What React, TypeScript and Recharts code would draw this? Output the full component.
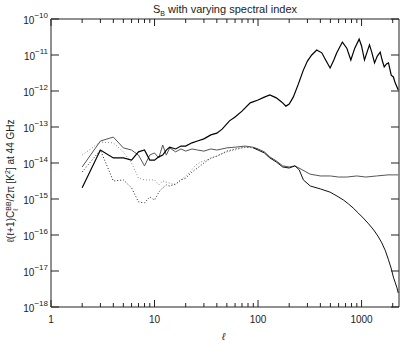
import React from "react";
import { LineChart, Line, XAxis, YAxis } from "recharts";

// multipole l for each curve, with log10 of l(l+1)C_l/2pi [K^2]
const ellA = [2, 3, 4, 5, 6, 7, 8, 9, 10, 11, 12, 13, 14, 16, 18, 20, 23, 26, 30, 35, 40, 45, 53, 60, 70, 84, 100, 115, 130, 150, 170, 186, 200, 219, 245, 274, 300, 330, 369, 413, 450, 497, 540, 576, 653, 720, 788, 860, 948, 1000, 1067, 1130, 1193, 1260, 1335, 1420, 1514, 1580, 1656, 1740, 1820, 1935, 2030, 2100, 2260];
const logA = [-14.69, -13.64, -13.86, -13.86, -13.92, -13.69, -13.64, -13.92, -13.92, -13.83, -13.78, -13.64, -13.56, -13.61, -13.53, -13.53, -13.44, -13.39, -13.33, -13.22, -13.17, -13.06, -12.83, -12.72, -12.56, -12.33, -12.25, -12.17, -12.11, -12.19, -12.31, -12.42, -12.36, -12.17, -11.81, -11.42, -11.17, -11.0, -10.86, -10.94, -11.14, -11.36, -11.14, -10.94, -10.64, -10.81, -11.14, -10.81, -10.56, -10.75, -11.14, -10.92, -10.72, -10.94, -11.22, -11.03, -10.92, -11.14, -11.33, -11.25, -11.22, -11.56, -11.61, -11.75, -11.97];

const ellB = [2, 3, 4, 5, 6, 7, 8, 9, 10, 11, 12, 13, 14, 16, 18, 20, 23, 26, 30, 35, 40, 50, 60, 75, 89, 100, 115, 130, 150, 173, 200, 227, 260, 318, 400, 500, 600, 720, 900, 1100, 1400, 1800, 2260];
const logB = [-14.11, -13.39, -13.28, -13.58, -13.64, -13.78, -14.08, -13.78, -13.72, -13.86, -13.5, -13.78, -13.58, -13.69, -13.61, -13.67, -13.61, -13.64, -13.67, -13.61, -13.64, -13.58, -13.56, -13.53, -13.56, -13.61, -13.69, -13.83, -13.94, -14.08, -14.11, -14.08, -14.17, -14.31, -14.36, -14.36, -14.39, -14.39, -14.36, -14.39, -14.36, -14.33, -14.33];

const ellC = [2, 3, 4, 5, 6, 7, 8, 9, 10, 11, 12, 14, 16, 18, 20, 22, 25, 28, 32, 36, 42, 50, 60, 70, 84, 100];
const logC = [-13.78, -13.42, -13.44, -13.69, -14.0, -14.42, -14.47, -14.47, -14.47, -14.61, -14.5, -14.56, -14.61, -14.47, -14.36, -14.25, -14.06, -13.97, -13.92, -13.86, -13.78, -13.69, -13.64, -13.58, -13.56, -13.61];

const ellD = [2, 3, 4, 5, 6, 7, 8, 9, 10, 11, 12, 13, 14, 16, 18, 20, 23, 26, 30, 35, 40, 50, 60, 75, 90, 100];
const logD = [-14.25, -13.64, -14.5, -14.47, -14.69, -15.08, -15.11, -14.94, -15.03, -14.81, -14.69, -14.61, -14.64, -14.58, -14.47, -14.42, -14.25, -14.14, -14.0, -13.86, -13.81, -13.67, -13.61, -13.56, -13.58, -13.61];

const ellE = [90, 100, 115, 130, 150, 173, 200, 227, 250, 274, 320, 400, 497, 580, 670, 750, 830, 930, 1040, 1170, 1310, 1440, 1570, 1700, 1820, 1930, 2030, 2120, 2200, 2260];
const logE = [-13.58, -13.64, -13.72, -13.86, -13.97, -14.11, -14.14, -14.08, -14.19, -14.47, -14.64, -14.72, -14.81, -14.92, -15.03, -15.14, -15.25, -15.39, -15.53, -15.69, -15.86, -16.03, -16.22, -16.44, -16.69, -16.92, -17.17, -17.33, -17.47, -17.61];

const xTicks = [1, 2, 3, 4, 5, 6, 7, 8, 9, 10, 20, 30, 40, 50, 60, 70, 80, 90, 100, 200, 300, 400, 500, 600, 700, 800, 900, 1000, 2000];
const xMajor = [1, 10, 100, 1000];
const yExp = [-18, -17, -16, -15, -14, -13, -12, -11, -10];

const series = [
    { key: "a", ell: ellA, logv: logA },
    { key: "b", ell: ellB, logv: logB },
    { key: "c", ell: ellC, logv: logC },
    { key: "d", ell: ellD, logv: logD },
    { key: "e", ell: ellE, logv: logE },
];

const allEll = Array.from(new Set(series.flatMap((s) => s.ell))).sort((p, q) => p - q);
const data = allEll.map((l) => {
    const row: any = { l };
    series.forEach((s) => {
        const i = s.ell.indexOf(l);
        if (i >= 0) row[s.key] = Math.pow(10, s.logv[i]);
    });
    return row;
});

const yTicks = yExp.map((e) => Math.pow(10, e));
const FONT = "'Liberation Sans', Arial, sans-serif";
const AXIS = "#222";

function BottomTick({ x, y, payload }: any) {
    const major = xMajor.includes(payload.value);
    return (
        <g>
            <line x1={x} x2={x} y1={y} y2={y - (major ? 7 : 4)} stroke={AXIS} />
            {major && (
                <text x={x} y={y + 16} textAnchor="middle" fontSize={10} fontFamily={FONT} fill="#222">
                    {payload.value}
                </text>
            )}
        </g>
    );
}

function TopTick({ x, y, payload }: any) {
    const major = xMajor.includes(payload.value);
    return <line x1={x} x2={x} y1={y} y2={y + (major ? 7 : 4)} stroke={AXIS} />;
}

function LeftTick({ x, y, payload }: any) {
    const e = Math.round(Math.log10(payload.value));
    return (
        <g>
            <line x1={x} x2={x + 8} y1={y} y2={y} stroke={AXIS} />
            <text x={x - 3} y={y + 5} textAnchor="end" fontSize={10} fontFamily={FONT} fill="#222">
                10
                <tspan dy={-6} fontSize={8}>{"\u2212" + Math.abs(e)}</tspan>
            </text>
        </g>
    );
}

function RightTick({ x, y }: any) {
    return <line x1={x} x2={x - 8} y1={y} y2={y} stroke={AXIS} />;
}

export default function App() {
    return (
        <div style={{ position: "absolute", left: 0, top: 0, width: 415, height: 346, background: "#fff", fontFamily: FONT }}>
            <LineChart width={415} height={346} data={data} margin={{ top: 0, right: 0, bottom: 0, left: 0 }}>
                <XAxis
                    xAxisId="b"
                    dataKey="l"
                    type="number"
                    scale="log"
                    domain={[1, 2300]}
                    allowDataOverflow
                    ticks={xTicks}
                    interval={0}
                    height={39}
                    tickSize={0}
                    tickMargin={0}
                    tickLine={false}
                    axisLine={{ stroke: AXIS }}
                    tick={<BottomTick />}
                />
                <XAxis
                    xAxisId="t"
                    orientation="top"
                    dataKey="l"
                    type="number"
                    scale="log"
                    domain={[1, 2300]}
                    allowDataOverflow
                    ticks={xTicks}
                    interval={0}
                    height={19}
                    tickSize={0}
                    tickMargin={0}
                    tickLine={false}
                    axisLine={{ stroke: AXIS }}
                    tick={<TopTick />}
                />
                <YAxis
                    yAxisId="l"
                    type="number"
                    scale="log"
                    domain={[1e-18, 1e-10]}
                    allowDataOverflow
                    ticks={yTicks}
                    interval={0}
                    width={51}
                    tickSize={0}
                    tickMargin={0}
                    tickLine={false}
                    axisLine={{ stroke: AXIS }}
                    tick={<LeftTick />}
                />
                <YAxis
                    yAxisId="r"
                    orientation="right"
                    type="number"
                    scale="log"
                    domain={[1e-18, 1e-10]}
                    allowDataOverflow
                    ticks={yTicks}
                    interval={0}
                    width={16}
                    tickSize={0}
                    tickMargin={0}
                    tickLine={false}
                    axisLine={{ stroke: AXIS }}
                    tick={<RightTick />}
                />
                <Line xAxisId="b" yAxisId="l" dataKey="c" type="linear" stroke="#8a8a8a" strokeWidth={1} strokeDasharray="1 2" dot={false} connectNulls isAnimationActive={false} />
                <Line xAxisId="b" yAxisId="l" dataKey="d" type="linear" stroke="#222" strokeWidth={1} strokeDasharray="1 2" dot={false} connectNulls isAnimationActive={false} />
                <Line xAxisId="b" yAxisId="l" dataKey="b" type="linear" stroke="#555" strokeWidth={1} dot={false} connectNulls isAnimationActive={false} />
                <Line xAxisId="b" yAxisId="l" dataKey="e" type="linear" stroke="#111" strokeWidth={1} dot={false} connectNulls isAnimationActive={false} />
                <Line xAxisId="b" yAxisId="l" dataKey="a" type="linear" stroke="#000" strokeWidth={1.2} dot={false} connectNulls isAnimationActive={false} />
            </LineChart>

            <div style={{ position: "absolute", left: 0, width: 450, top: 2, textAlign: "center", fontSize: 11, color: "#222", lineHeight: "14px" }}>
                S<sub style={{ fontSize: 7 }}>B</sub> with varying spectral index
            </div>

            <div
                style={{
                    position: "absolute",
                    left: 10,
                    top: 181,
                    transform: "translate(-50%, -50%) rotate(-90deg)",
                    whiteSpace: "nowrap",
                    fontSize: 10,
                    color: "#222",
                    lineHeight: "12px",
                }}
            >
                ℓ(ℓ+1)C
                <span style={{ display: "inline-flex", flexDirection: "column", fontSize: 7, lineHeight: "7px", verticalAlign: "middle" }}>
                    <span>BB</span>
                    <span>ℓ</span>
                </span>
                /2π [K<sup style={{ fontSize: 7 }}>2</sup>] at 44 GHz
            </div>

            <div style={{ position: "absolute", left: 222, top: 331, fontSize: 10, fontStyle: "italic", color: "#222" }}>ℓ</div>
        </div>
    );
}
